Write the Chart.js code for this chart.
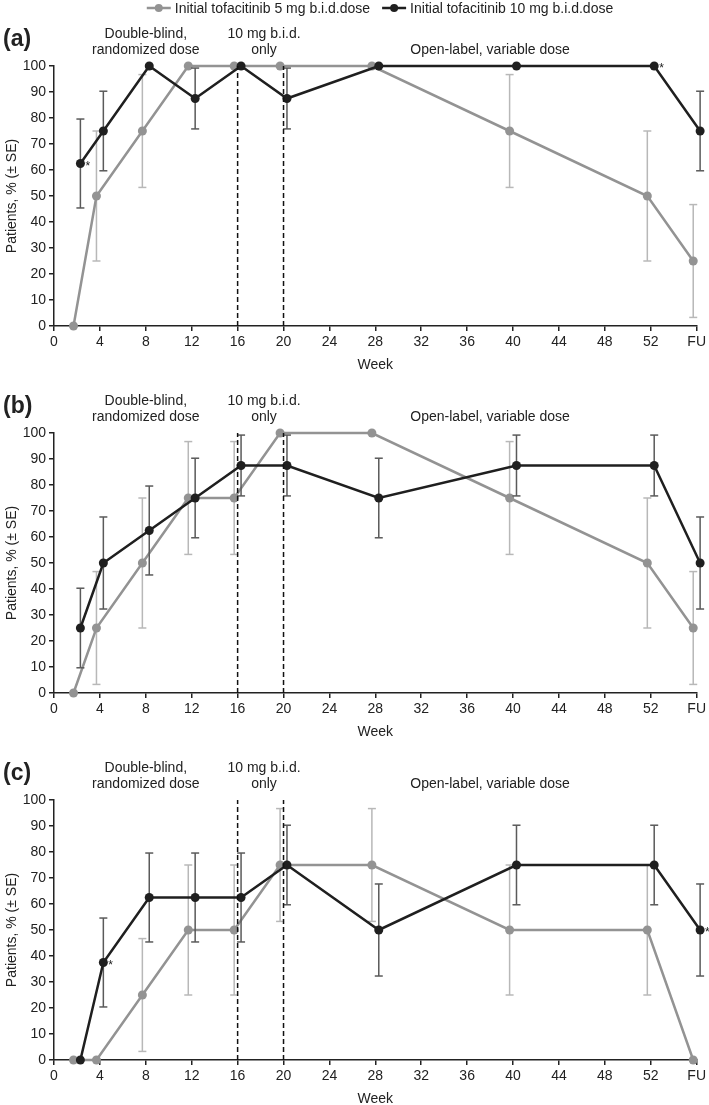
<!DOCTYPE html>
<html>
<head>
<meta charset="utf-8">
<script src="https://cdn.jsdelivr.net/npm/chart.js@4.4.1/dist/chart.umd.min.js"></script>
<style>
  body { margin: 0; background: #fff; width: 709px; height: 1105px; overflow: hidden; position: relative; }
  .panel { position: absolute; left: 0; width: 709px; height: 372px; }
</style>
</head>
<body>
<div class="panel" style="top:0px"><canvas id="chartA" width="709" height="372"></canvas></div>
<div class="panel" style="top:367px"><canvas id="chartB" width="709" height="372"></canvas></div>
<div class="panel" style="top:734px"><canvas id="chartC" width="709" height="372"></canvas></div>
<script>
// Semaines de visite (56 = FU)
const weeks = [2, 4, 8, 12, 16, 20, 28, 40, 52, 56];
const xTicks = [0, 4, 8, 12, 16, 20, 24, 28, 32, 36, 40, 44, 48, 52, 56];
const xTickLabels = ["0", "4", "8", "12", "16", "20", "24", "28", "32", "36", "40", "44", "48", "52", "FU"];
const phaseLines = [16, 20];

// (a)
const a5mg = [0, 50, 75, 100, 100, 100, 100, 75, 50, 25];
const a5mgSE = [0, 25, 21.7, 0, 0, 0, 0, 21.7, 25, 21.7];
const a10mg = [62.5, 75, 100, 87.5, 100, 87.5, 100, 100, 100, 75];
const a10mgSE = [17.1, 15.3, 0, 11.7, 0, 11.7, 0, 0, 0, 15.3];
const aStars = [2, 52];

// (b)
const b5mg = [0, 25, 50, 75, 75, 100, 100, 75, 50, 25];
const b5mgSE = [0, 21.7, 25, 21.7, 21.7, 0, 0, 21.7, 25, 21.7];
const b10mg = [25, 50, 62.5, 75, 87.5, 87.5, 75, 87.5, 87.5, 50];
const b10mgSE = [15.3, 17.7, 17.1, 15.3, 11.7, 11.7, 15.3, 11.7, 11.7, 17.7];
const bStars = [];

// (c)
const c5mg = [0, 0, 25, 50, 50, 75, 75, 50, 50, 0];
const c5mgSE = [0, 0, 21.7, 25, 25, 21.7, 21.7, 25, 25, 0];
const c10mg = [0, 37.5, 62.5, 62.5, 62.5, 75, 50, 75, 75, 50];
const c10mgSE = [0, 17.1, 17.1, 17.1, 17.1, 15.3, 17.7, 15.3, 15.3, 17.7];
const cStars = [4, 56];

const legendLabels = ["Initial tofacitinib 5 mg b.i.d.dose", "Initial tofacitinib 10 mg b.i.d.dose"];

const FONT = "'Liberation Sans', Arial, Helvetica, sans-serif";
const TEXT = "#222";
const GRAY = "#939393";
const GRAY_ERR = "#b8b8b8";
const DARK = "#1f1f1f";
const DARK_ERR = "#5a5a5a";
const DODGE = 0.3;

function seriesPoints(values, shift) {
  return weeks.map((w, i) => ({ x: w + shift, y: values[i] }));
}

// barres d'erreur : segments séparés par des null
// (ordre inversé pour que Chart.js ne coupe pas les points au-delà de FU)
function errorPoints(values, se, shift) {
  let pts = [];
  weeks.forEach((w, i) => {
    if (se[i] > 0) {
      pts.push({ x: w + shift, y: values[i] - se[i] });
      pts.push({ x: w + shift, y: values[i] + se[i] });
      pts.push({ x: w + shift, y: null });
    }
  });
  return pts.reverse();
}

function dashedPoints() {
  let pts = [];
  phaseLines.forEach(w => {
    pts.push({ x: w, y: 0 }, { x: w, y: 100 }, { x: w, y: null });
  });
  return pts;
}

// Textes du panneau : lettre, phases, astérisques, légende
const panelText = {
  id: "panelText",
  afterDraw(chart, args, opts) {
    const ctx = chart.ctx;
    const xs = chart.scales.x;
    const ys = chart.scales.y;
    ctx.save();
    ctx.fillStyle = TEXT;
    ctx.textBaseline = "middle";

    ctx.font = "bold 23px " + FONT;
    ctx.textAlign = "left";
    ctx.fillText(opts.letter, 3, 40);

    ctx.font = "14px " + FONT;
    ctx.textAlign = "center";
    ctx.fillText("Double-blind,", xs.getPixelForValue(8), 34);
    ctx.fillText("randomized dose", xs.getPixelForValue(8), 50);
    ctx.fillText("10 mg b.i.d.", xs.getPixelForValue(18.3), 34);
    ctx.fillText("only", xs.getPixelForValue(18.3), 50);
    ctx.fillText("Open-label, variable dose", xs.getPixelForValue(38), 50);

    // astérisques sur la série 10 mg
    ctx.font = "12px " + FONT;
    ctx.textAlign = "left";
    opts.stars.forEach(w => {
      const i = weeks.indexOf(w);
      const px = xs.getPixelForValue(w + DODGE);
      const py = ys.getPixelForValue(opts.dark[i]);
      ctx.fillText("*", px + 5, py + 3);
    });

    if (opts.legend) {
      ctx.font = "14px " + FONT;
      const w0 = ctx.measureText(legendLabels[0]).width;
      const w1 = ctx.measureText(legendLabels[1]).width;
      const total = 24 + 4 + w0 + 12 + 24 + 4 + w1;
      let x = 380 - total / 2;
      const y = 8;
      [[GRAY, w0], [DARK, w1]].forEach(([col, tw], k) => {
        ctx.strokeStyle = col;
        ctx.lineWidth = 2.5;
        ctx.beginPath();
        ctx.moveTo(x, y);
        ctx.lineTo(x + 24, y);
        ctx.stroke();
        ctx.fillStyle = col;
        ctx.beginPath();
        ctx.arc(x + 12, y, 4, 0, Math.PI * 2);
        ctx.fill();
        ctx.fillStyle = TEXT;
        ctx.fillText(legendLabels[k], x + 28, y + 1);
        x += 28 + tw + 12;
      });
    }
    ctx.restore();
  }
};

function makePanel(id, letter, v5, se5, v10, se10, stars, legend) {
  const ctx = document.getElementById(id).getContext("2d");
  return new Chart(ctx, {
    type: "line",
    data: {
      datasets: [
        {
          label: "dark",
          data: seriesPoints(v10, DODGE),
          borderColor: DARK,
          backgroundColor: DARK,
          borderWidth: 2.5,
          pointRadius: 4.5,
          pointBorderWidth: 0,
          clip: false,
          order: 1,
        },
        {
          label: "darkErr",
          data: errorPoints(v10, se10, DODGE),
          borderColor: DARK_ERR,
          borderWidth: 1.5,
          pointStyle: "line",
          pointRadius: 4,
          pointBorderWidth: 1.5,
          pointBorderColor: DARK_ERR,
          clip: false,
          order: 2,
        },
        {
          label: "gray",
          data: seriesPoints(v5, -DODGE),
          borderColor: GRAY,
          backgroundColor: GRAY,
          borderWidth: 2.5,
          pointRadius: 4.5,
          pointBorderWidth: 0,
          clip: false,
          order: 3,
        },
        {
          label: "grayErr",
          data: errorPoints(v5, se5, -DODGE),
          borderColor: GRAY_ERR,
          borderWidth: 1.5,
          pointStyle: "line",
          pointRadius: 4,
          pointBorderWidth: 1.5,
          pointBorderColor: GRAY_ERR,
          clip: false,
          order: 4,
        },
        {
          label: "phases",
          data: dashedPoints(),
          borderColor: "#111",
          borderWidth: 1.5,
          borderDash: [5, 3],
          pointRadius: 0,
          clip: false,
          order: 0,
        },
      ],
    },
    options: {
      responsive: false,
      animation: false,
      events: [],
      layout: { padding: { top: 66, right: 12, left: 0, bottom: 0 } },
      plugins: {
        legend: { display: false },
        tooltip: { enabled: false },
        panelText: { letter: letter, stars: stars, dark: v10, legend: legend },
      },
      scales: {
        x: {
          type: "linear",
          min: 0,
          max: 56,
          afterBuildTicks: scale => { scale.ticks = xTicks.map(v => ({ value: v })); },
          afterFit: scale => { scale.height = 46; },
          ticks: {
            color: TEXT,
            font: { family: FONT, size: 14 },
            padding: 3,
            maxRotation: 0,
            autoSkip: false,
            callback: (v) => xTickLabels[xTicks.indexOf(v)],
          },
          grid: { drawOnChartArea: false, drawTicks: true, tickLength: 5, color: "#222", lineWidth: 1.5 },
          border: { display: true, color: "#222", width: 1.5 },
          title: { display: true, text: "Week", color: TEXT, font: { family: FONT, size: 14, lineHeight: 1 }, padding: { top: 0, bottom: 0 } },
        },
        y: {
          min: 0,
          max: 100,
          afterFit: scale => { scale.width = 54; },
          ticks: { stepSize: 10, color: TEXT, font: { family: FONT, size: 14 }, padding: 3 },
          grid: { drawOnChartArea: false, drawTicks: true, tickLength: 5, color: "#222", lineWidth: 1.5 },
          border: { display: true, color: "#222", width: 1.5 },
          title: { display: true, text: "Patients, % (± SE)", color: TEXT, font: { family: FONT, size: 14 }, padding: { top: 4, bottom: 4 } },
        },
      },
    },
    plugins: [panelText],
  });
}

makePanel("chartA", "(a)", a5mg, a5mgSE, a10mg, a10mgSE, aStars, true);
makePanel("chartB", "(b)", b5mg, b5mgSE, b10mg, b10mgSE, bStars, false);
makePanel("chartC", "(c)", c5mg, c5mgSE, c10mg, c10mgSE, cStars, false);
</script>
</body>
</html>
